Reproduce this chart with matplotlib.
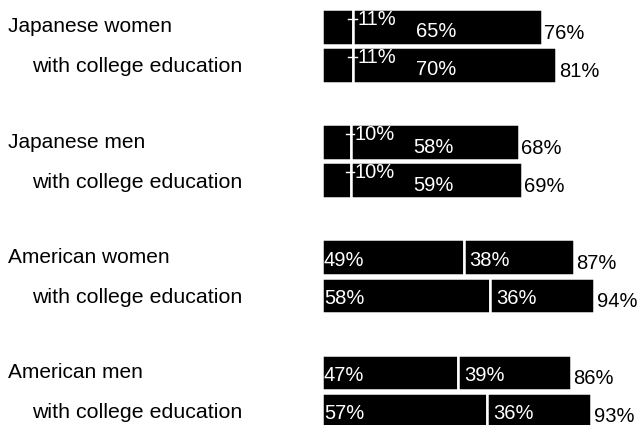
import matplotlib
matplotlib.use('Agg')
import matplotlib.pyplot as plt

plt.rcParams['font.family'] = ['Liberation Sans', 'DejaVu Sans']

groups = ['Japanese women', 'Japanese men', 'American women', 'American men']
sub_label = 'with college education'
# two bars per group: all, then with college education
first = [11, 11, 10, 10, 49, 58, 47, 57]
second = [65, 70, 58, 59, 38, 36, 39, 36]
totals = [76, 81, 68, 69, 87, 94, 86, 93]
japanese = [True, True, True, True, False, False, False, False]

fig = plt.figure(figsize=(6.39, 4.25), dpi=100)
ax = fig.add_axes([0, 0, 1, 1])

group_gap = 3.03
ypos = []
for g in range(len(groups)):
    ypos += [g * group_gap, g * group_gap + 1]

bh = 0.94
ax.barh(ypos, first, height=bh, color='black', edgecolor='white', linewidth=1.8)
ax.barh(ypos, second, left=first, height=bh, color='black', edgecolor='white', linewidth=1.8)

for y, a, b, t, jp in zip(ypos, first, second, totals, japanese):
    ax.text(t + 0.9, y + 0.16, f'{t}%', ha='left', va='center', fontsize=14.5, color='black')
    if jp:
        ax.plot([a - 1.7, a + 1.1], [y - 0.21, y - 0.21], color='white', lw=1.0)
        ax.text(a + 1.4, y - 0.21, f'{a}%', ha='left', va='center', fontsize=14.5, color='white')
        ax.text(a + 21.5, y + 0.13, f'{b}%', ha='left', va='center', fontsize=14.5, color='white')
    else:
        ax.text(0.8, y + 0.08, f'{a}%', ha='left', va='center', fontsize=14.5, color='white')
        ax.text(a + 2.1, y + 0.08, f'{b}%', ha='left', va='center', fontsize=14.5, color='white')

for g, name in enumerate(groups):
    y = g * group_gap
    ax.text(-108.1, y, name, ha='left', va='center', fontsize=15)
    ax.text(-99.9, y + 1.05, sub_label, ha='left', va='center', fontsize=15.4)

ax.set_xlim(-110.9, 109.5)
ax.set_ylim(10.47, -0.71)
ax.axis('off')

plt.savefig('out.png', dpi=100)
